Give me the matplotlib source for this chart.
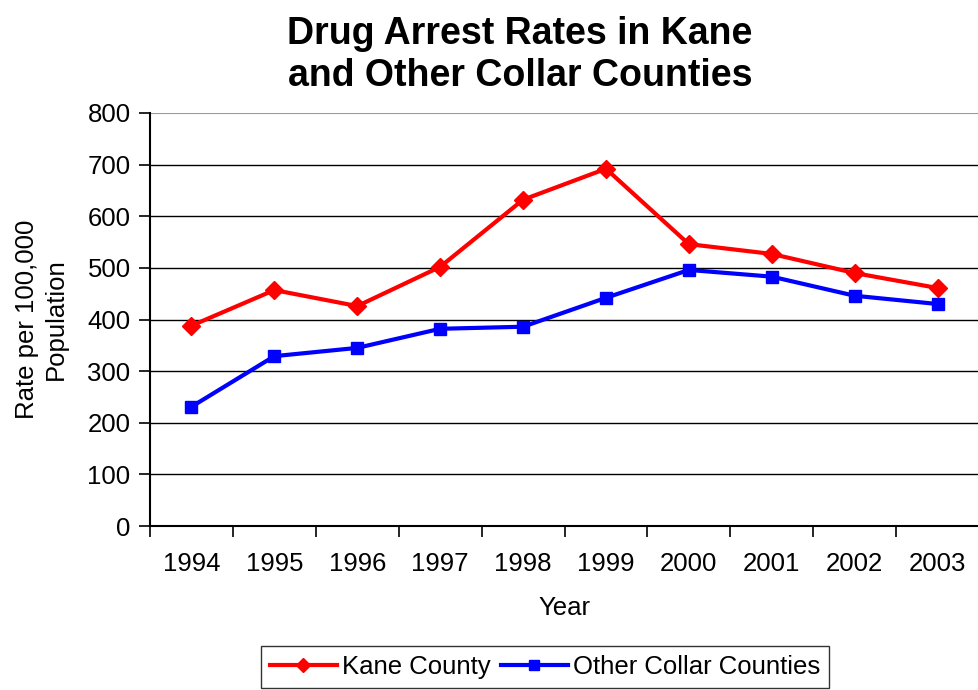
import matplotlib
matplotlib.use("Agg")
import matplotlib.pyplot as plt
import numpy as np

plt.rcParams['font.family'] = ['Liberation Sans', 'DejaVu Sans']

years = ['1994', '1995', '1996', '1997', '1998', '1999', '2000', '2001', '2002', '2003']
kane = [388, 457, 426, 502, 632, 692, 546, 527, 490, 461]
other = [231, 329, 345, 382, 386, 442, 496, 483, 446, 430]

fig = plt.figure(figsize=(9.79, 6.90), dpi=100)
ax = fig.add_axes([150 / 979, 1 - 526 / 690, 829 / 979, 413 / 690])

x = np.arange(len(years))
ax.plot(x, kane, color='#ff0000', lw=3, marker='D', ms=9, label='Kane County', clip_on=False)
ax.plot(x, other, color='#0000ff', lw=3, marker='s', ms=9, label='Other Collar Counties', clip_on=False)

ax.set_xlim(-0.5, len(years) - 0.5)
ax.set_ylim(0, 800)
ax.set_yticks(range(0, 801, 100))
ax.set_xticks(x)
ax.set_xticklabels(years)
ax.set_xticks(np.arange(-0.5, len(years)), minor=True)
ax.tick_params(axis='x', which='major', length=0, pad=19, labelsize=18.5)
ax.tick_params(axis='x', which='minor', length=8, width=1.2, direction='out')
ax.tick_params(axis='y', length=8, width=1.2, direction='out', labelsize=18.5, pad=6)

# horizontal gridlines only, top one lighter
for v in range(100, 800, 100):
    ax.axhline(v, color='black', lw=1, zorder=0)
ax.axhline(800, color='#999999', lw=1.5, zorder=0)

for side in ['top', 'right']:
    ax.spines[side].set_visible(False)
ax.spines['left'].set_linewidth(1.5)
ax.spines['bottom'].set_linewidth(1.5)

ax.set_xlabel('Year', fontsize=18.5, labelpad=14)
ax.set_ylabel('Rate per 100,000\nPopulation', fontsize=18.5, labelpad=14, linespacing=1.25)

fig.text(520 / 979, 1 - 55 / 690, 'Drug Arrest Rates in Kane\nand Other Collar Counties',
         ha='center', va='center', fontsize=27, fontweight='bold', linespacing=1.2)

leg = fig.legend(loc='center', bbox_to_anchor=(545 / 979, 1 - 667 / 690), ncol=2,
                 fontsize=18.5, frameon=True, fancybox=False, edgecolor='black',
                 handlelength=2.6, handletextpad=0.2, columnspacing=0.4, borderpad=0.35,
                 markerscale=0.8)
leg.get_frame().set_linewidth(1)

fig.savefig('out.png', dpi=100)
